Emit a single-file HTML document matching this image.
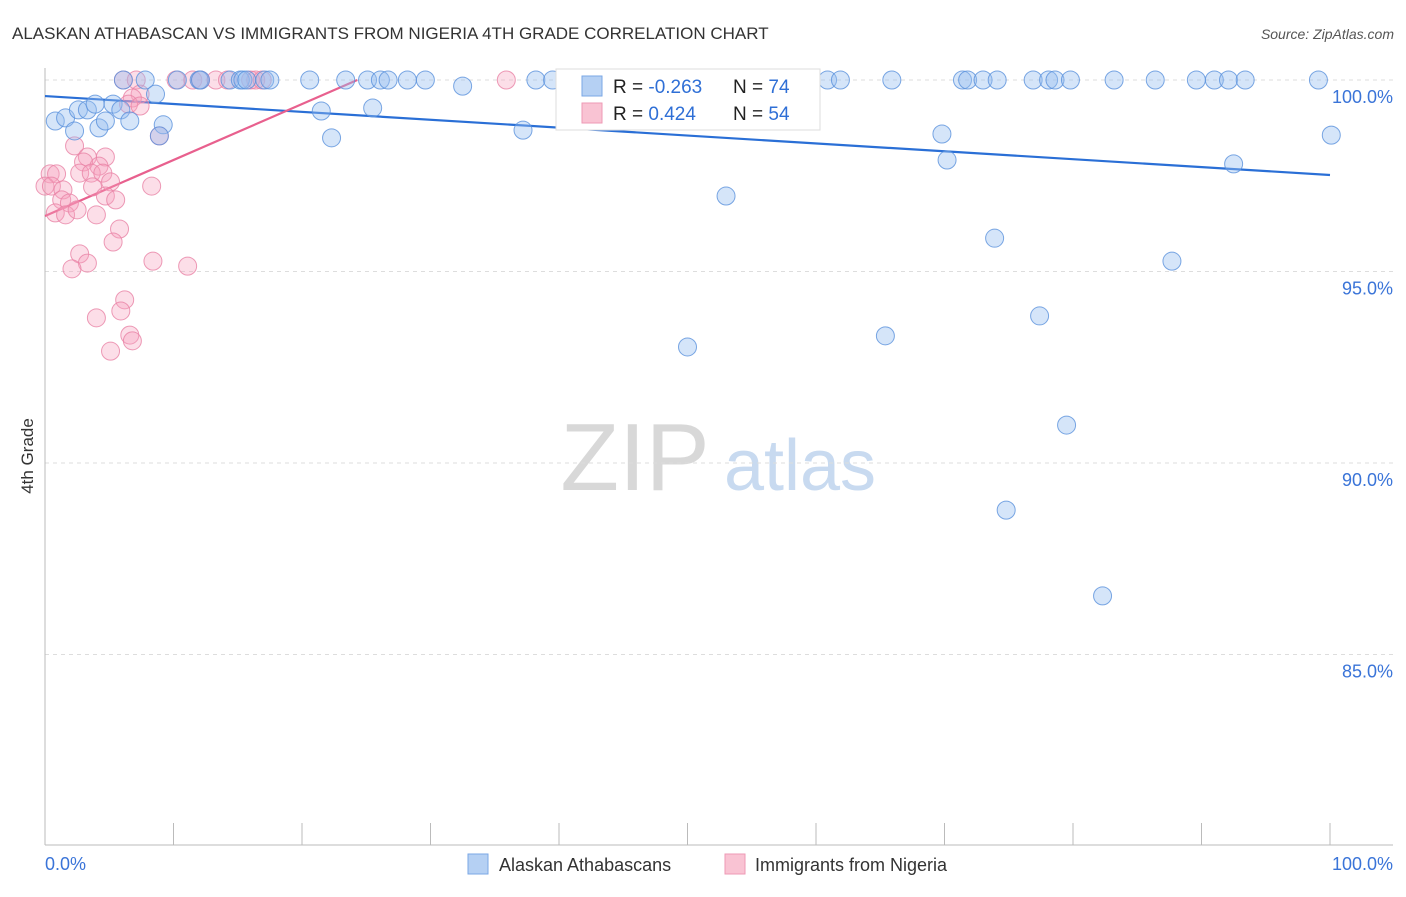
<!DOCTYPE html>
<html><head><meta charset="utf-8"><style>
body{margin:0;background:#fff;font-family:"Liberation Sans",sans-serif;}
svg text{font-family:"Liberation Sans",sans-serif;}
</style></head><body>
<svg id="chart" width="1406" height="892" xmlns="http://www.w3.org/2000/svg">
<text x="12" y="39" font-size="17" fill="#333">ALASKAN ATHABASCAN VS IMMIGRANTS FROM NIGERIA 4TH GRADE CORRELATION CHART</text>
<text x="1394" y="39" font-size="14" font-style="italic" fill="#555" text-anchor="end">Source: ZipAtlas.com</text>
<text transform="translate(33,456) rotate(-90)" font-size="17" fill="#333" text-anchor="middle">4th Grade</text>
<g>
<text x="635" y="490" font-size="96" font-family="Liberation Serif" fill="#d8d8d8" text-anchor="middle">ZIP</text>
<text x="800" y="490" font-size="72" fill="#c8daf0" text-anchor="middle">atlas</text>
</g>
<g id="grid"></g><g id="axes"></g><g id="trends"></g><g id="pts"></g>
<g>
<rect x="556" y="69" width="264" height="61" fill="#fff" stroke="#ddd"/>
<rect x="582" y="76" width="20" height="20" fill="#b5d0f3" stroke="#7aa7e6"/>
<rect x="582" y="103" width="20" height="20" fill="#f9c3d3" stroke="#ee9ab5"/>
<text x="613" y="93" font-size="19" fill="#222">R = <tspan fill="#2f6fd6">-0.263</tspan></text>
<text x="733" y="93" font-size="19" fill="#222">N = <tspan fill="#2f6fd6">74</tspan></text>
<text x="613" y="120" font-size="19" fill="#222">R = <tspan fill="#2f6fd6"> 0.424</tspan></text>
<text x="733" y="120" font-size="19" fill="#222">N = <tspan fill="#2f6fd6">54</tspan></text>
</g>
<g>
<rect x="468" y="854" width="20" height="20" fill="#b5d0f3" stroke="#7aa7e6"/>
<text x="499" y="871" font-size="18" fill="#333">Alaskan Athabascans</text>
<rect x="725" y="854" width="20" height="20" fill="#f9c3d3" stroke="#ee9ab5"/>
<text x="755" y="871" font-size="18" fill="#333">Immigrants from Nigeria</text>
</g>
</svg>
<script>
const yTicks=[100,95,90,85];
const yTickLabels=["100.0%","95.0%","90.0%","85.0%"];
const xTicks=[0,10,20,30,40,50,60,70,80,90,100];
const blueX=[6.1,7.8,10.3,12.0,12.1,14.4,15.2,15.4,15.7,17.1,17.5,20.6,23.4,25.1,26.1,26.7,28.2,29.6,38.2,39.5,41.2,60.9,61.9,65.9,71.4,71.8,73.0,74.1,76.9,78.1,78.6,79.8,83.2,86.4,89.6,91.0,92.1,93.4,99.1,
0.8,1.6,2.6,3.3,3.9,2.3,4.2,4.7,5.3,5.9,6.6,8.6,9.2,8.9,21.5,22.3,25.5,32.5,37.2,53.0,50.0,65.4,69.8,70.2,73.9,77.4,79.5,74.8,82.3,87.7,92.5,100.1,58.0];
const blueY=[100,100,100,100,100,100,100,100,100,100,100,100,100,100,100,100,100,100,100,100,100,100,100,100,100,100,100,100,100,100,100,100,100,100,100,100,100,100,100,
98.93,99.01,99.22,99.22,99.37,98.67,98.75,98.93,99.37,99.22,98.93,99.63,98.83,98.54,99.19,98.49,99.27,99.84,98.69,96.97,93.03,93.32,98.59,97.91,95.87,93.84,90.99,88.77,86.53,95.27,97.81,98.56,99.14];
const pinkX=[6.1,7.1,10.2,11.5,12.1,13.3,14.2,16.0,16.4,16.9,35.9,
7.4,6.8,6.5,7.4,8.9,2.3,3.3,4.7,3.0,4.2,2.7,3.6,4.5,5.1,0.4,0.9,0.0,0.5,1.4,3.7,8.3,4.7,5.5,1.3,1.9,0.8,1.6,4.0,2.5,5.8,5.3,2.7,3.3,2.1,8.4,11.1,6.2,5.9,4.0,6.6,6.8,5.1];
const pinkY=[100,100,100,100,100,100,100,100,100,100,100,
99.63,99.53,99.37,99.32,98.54,98.28,97.99,97.99,97.86,97.75,97.57,97.57,97.57,97.34,97.55,97.55,97.23,97.23,97.13,97.21,97.23,96.97,96.87,96.87,96.79,96.53,96.48,96.48,96.61,96.11,95.77,95.46,95.22,95.07,95.27,95.14,94.26,93.97,93.79,93.34,93.19,92.92];
const blueTrendX=[0,100], blueTrendY=[99.58,97.52];
const pinkTrendX=[0,24.3], pinkTrendY=[96.45,100];

const NS="http://www.w3.org/2000/svg";
const X0=45,X1=1330,Y100=80,PX_PER=38.3;
const sx=v=>X0+(X1-X0)*v/100;
const sy=v=>Y100+(100-v)*PX_PER;
function mk(tag,attrs,parent){const e=document.createElementNS(NS,tag);for(const k in attrs)e.setAttribute(k,attrs[k]);document.getElementById(parent).appendChild(e);return e;}
yTicks.forEach((t,i)=>{
 const l=mk('line',{x1:45,x2:1393,y1:sy(t),y2:sy(t),stroke:'#ddd','stroke-dasharray':'4,4'},'grid');
 
 
 const tx=mk('text',{x:1393,y:sy(t)+23,'font-size':18,fill:'#3a74d8','text-anchor':'end'},'grid');
 tx.textContent=yTickLabels[i];
 
 
});
let a=mk('line',{x1:45,x2:45,y1:68,y2:845,stroke:'#bbb'},'axes');


a=mk('line',{x1:45,x2:1393,y1:845,y2:845,stroke:'#bbb'},'axes');


xTicks.forEach(t=>{
 const l=mk('line',{x1:sx(t),x2:sx(t),y1:823,y2:845,stroke:'#bbb'},'axes');
 
 
});
let t0=mk('text',{x:45,y:870,'font-size':18,fill:'#3a74d8'},'axes');t0.textContent='0.0%';


let t1=mk('text',{x:1393,y:870,'font-size':18,fill:'#3a74d8','text-anchor':'end'},'axes');t1.textContent='100.0%';


pinkX.forEach((x,i)=>{
 const c=mk('circle',{cx:sx(x),cy:sy(pinkY[i]),r:9,fill:'rgba(245,160,190,0.35)',stroke:'rgba(232,130,165,0.8)','stroke-width':1},'pts');
 
 
});
blueX.forEach((x,i)=>{
 const c=mk('circle',{cx:sx(x),cy:sy(blueY[i]),r:9,fill:'rgba(150,190,240,0.4)',stroke:'rgba(90,145,220,0.8)','stroke-width':1},'pts');
 
 
});
let bl=mk('line',{x1:sx(blueTrendX[0]),y1:sy(blueTrendY[0]),x2:sx(blueTrendX[1]),y2:sy(blueTrendY[1]),stroke:'#2a6fd6','stroke-width':2.2},'trends');


let pl=mk('line',{x1:sx(pinkTrendX[0]),y1:sy(pinkTrendY[0]),x2:sx(pinkTrendX[1]),y2:sy(pinkTrendY[1]),stroke:'#e8608e','stroke-width':2.2},'trends');


</script>
</body></html>
